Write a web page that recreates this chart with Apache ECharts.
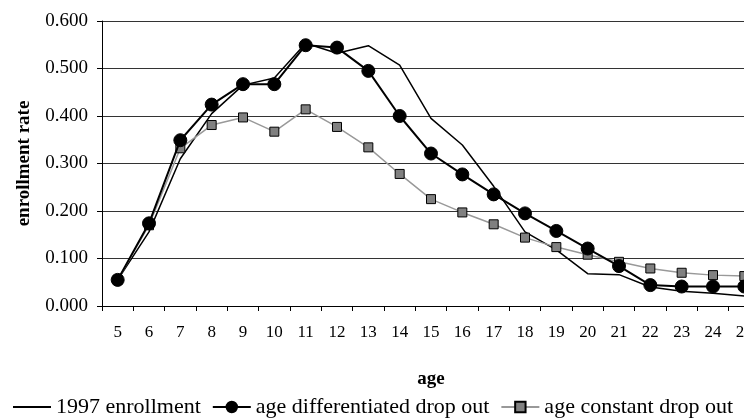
<!DOCTYPE html>
<html>
<head>
<meta charset="utf-8">
<script src="https://cdn.jsdelivr.net/npm/echarts@6/dist/echarts.min.js"></script>
<style>html,body{margin:0;padding:0;background:#fff;overflow:hidden;width:744px;height:418px}#c{width:760px;height:418px}</style>
</head>
<body>
<div id="c"></div>
<script>
const ages = ['5','6','7','8','9','10','11','12','13','14','15','16','17','18','19','20','21','22','23','24','25'];
const enroll1997 = [0.055,0.156,0.310,0.405,0.465,0.480,0.553,0.532,0.548,0.507,0.395,0.339,0.252,0.156,0.118,0.068,0.066,0.040,0.031,0.027,0.021];
const ageDiff = [0.055,0.174,0.349,0.424,0.467,0.467,0.549,0.544,0.495,0.400,0.321,0.277,0.235,0.195,0.158,0.121,0.084,0.044,0.041,0.041,0.041];
const ageConst = [0.055,0.170,0.332,0.381,0.397,0.367,0.414,0.377,0.334,0.278,0.225,0.197,0.172,0.144,0.124,0.108,0.093,0.079,0.070,0.065,0.063];
const seriesNames = ['1997 enrollment','age differentiated drop out','age constant drop out'];

const font = '"Liberation Serif","Times New Roman",serif';
const chart = echarts.init(document.getElementById('c'));
chart.setOption({
  animation: false,
  backgroundColor: '#fff',
  textStyle: {fontFamily: font, color: '#000'},
  grid: {left: 102, top: 21, right: 0, bottom: 112, containLabel: false},
  legend: {
    left: 7, top: 391,
    itemWidth: 38, itemHeight: 13, itemGap: 11,
    textStyle: {fontFamily: font, fontSize: 22, color: '#000'},
    data: [
      {name: seriesNames[0], itemStyle: {opacity: 0}},
      {name: seriesNames[1]},
      {name: seriesNames[2]}
    ]
  },
  xAxis: {
    type: 'category', data: ages,
    name: 'age', nameLocation: 'middle', nameGap: 64,
    nameTextStyle: {fontFamily: font, fontSize: 19, fontWeight: 'bold', color: '#000'},
    axisLine: {lineStyle: {color: '#000', width: 1}},
    axisTick: {show: true, length: 5, lineStyle: {color: '#000'}},
    axisLabel: {interval: 0, fontFamily: font, fontSize: 17, color: '#000', margin: 18}
  },
  yAxis: {
    type: 'value', min: 0, max: 0.6, interval: 0.1,
    name: 'enrollment rate', nameLocation: 'middle', nameGap: 68, nameRotate: 90,
    nameTextStyle: {fontFamily: font, fontSize: 19, fontWeight: 'bold', color: '#000'},
    axisLine: {show: true, lineStyle: {color: '#000', width: 1}},
    axisTick: {show: true, length: 5, lineStyle: {color: '#000'}},
    axisLabel: {fontFamily: font, fontSize: 19, color: '#000', margin: 14, formatter: v => v.toFixed(3)},
    splitLine: {show: true, lineStyle: {color: '#333', width: 1}}
  },
  series: [
    {name: seriesNames[0], type: 'line', data: enroll1997, symbol: 'none',
     lineStyle: {color: '#000', width: 1.5}, itemStyle: {color: '#000'}, z: 2},
    {name: seriesNames[1], type: 'line', data: ageDiff, symbol: 'circle', symbolSize: 13,
     lineStyle: {color: '#000', width: 2}, itemStyle: {color: '#000', borderColor: '#000', borderWidth: 1}, z: 4},
    {name: seriesNames[2], type: 'line', data: ageConst, symbol: 'rect', symbolSize: 9,
     lineStyle: {color: '#999', width: 1.5}, itemStyle: {color: '#808080', borderColor: '#000', borderWidth: 1}, z: 3}
  ]
});
</script>
</body>
</html>
